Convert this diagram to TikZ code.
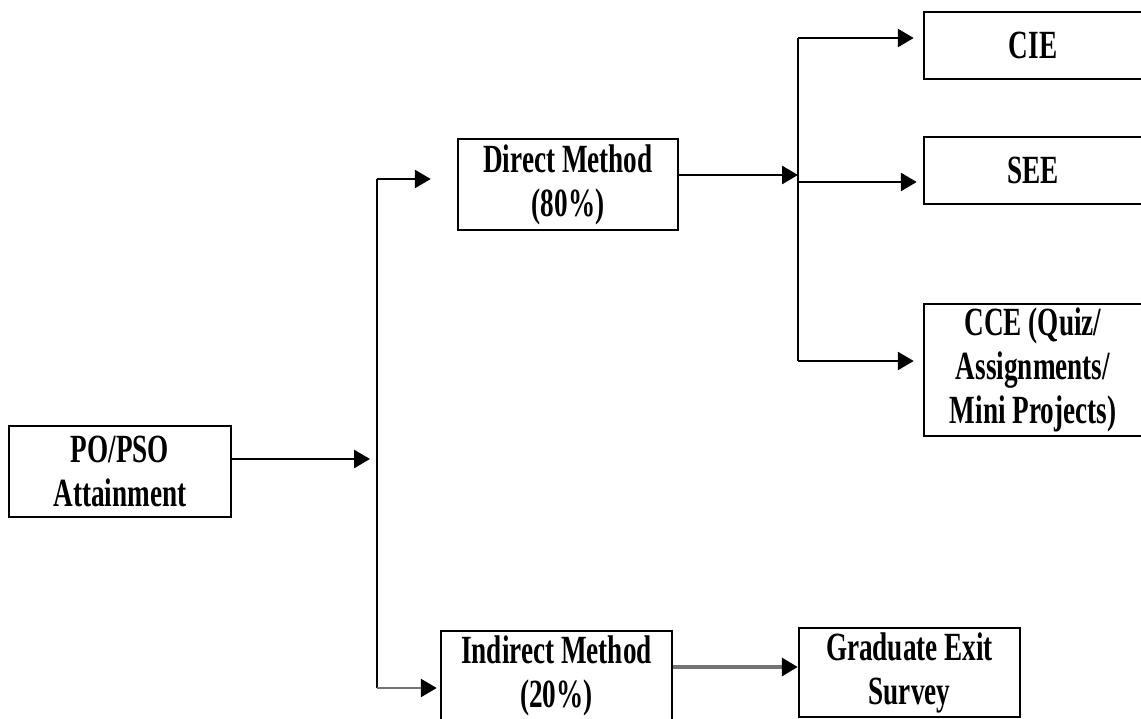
\documentclass[tikz,border=0pt]{standalone}
\usepackage{fontspec}
\setmainfont{Liberation Serif}[FakeStretch=0.68]
\usetikzlibrary{arrows.meta}
\begin{document}
\begin{tikzpicture}[x=1pt,y=-1pt,
  box/.style={draw=black, line width=2.5pt, align=center, inner sep=0pt,
    font=\fontsize{40}{44}\selectfont\bfseries},
  conn/.style={line width=2.8pt, draw=black},
  arr/.style={conn, -{Triangle[length=16pt,width=18pt,color=black]}},
  grayarr/.style={arr, draw=black!55}]
\useasboundingbox (0,0) rectangle (1141,719);
% nodes
\node[box, minimum width=222pt, minimum height=91pt] (po) at (120,471.5) {PO/PSO\\Attainment};
\node[box, minimum width=220pt, minimum height=91pt] (dm) at (568,184.5) {Direct Method\\(80\%)};
\node[box, minimum width=231pt, minimum height=89pt] (im) at (556.5,675.5) {Indirect Method\\(20\%)};
\node[box, minimum width=218pt, minimum height=67pt] (cie) at (1033,45.5) {CIE};
\node[box, minimum width=218pt, minimum height=67pt] (see) at (1033,170.5) {SEE};
\node[box, minimum width=218pt, minimum height=132pt] (cce) at (1033,370) {CCE (Quiz/\\Assignments/\\Mini Projects)};
\node[box, minimum width=221pt, minimum height=89pt] (ge) at (909.5,672.5) {Graduate Exit\\Survey};
% junction coordinates
\coordinate (jl) at (377,459);
\coordinate (lt) at (377,179);
\coordinate (lb) at (377,688);
\coordinate (jr) at (798,175);
\coordinate (rt) at (798,38);
\coordinate (rm) at (798,182);
\coordinate (rb) at (798,361);
% connectors
\draw[arr] (po.east |- jl) -- ([xshift=-7pt]jl);
\draw[conn] (lt) -- (lb);
\draw[arr, shorten >=26pt] (lt) -- (dm.west |- lt);
\draw[grayarr, shorten >=3pt] (lb) -- (im.west |- lb);
\draw[arr] (dm.east |- jr) -- (jr);
\draw[conn] (rt) -- (rb);
\draw[arr, shorten >=9pt] (rt) -- (cie.west |- rt);
\draw[arr, shorten >=6pt] (rm) -- (see.west |- rm);
\draw[arr, shorten >=9pt] (rb) -- (cce.west |- rb);
\draw[grayarr, line width=3.5pt] (im.east |- 0,667) -- (ge.west |- 0,667);
\end{tikzpicture}
\end{document}
